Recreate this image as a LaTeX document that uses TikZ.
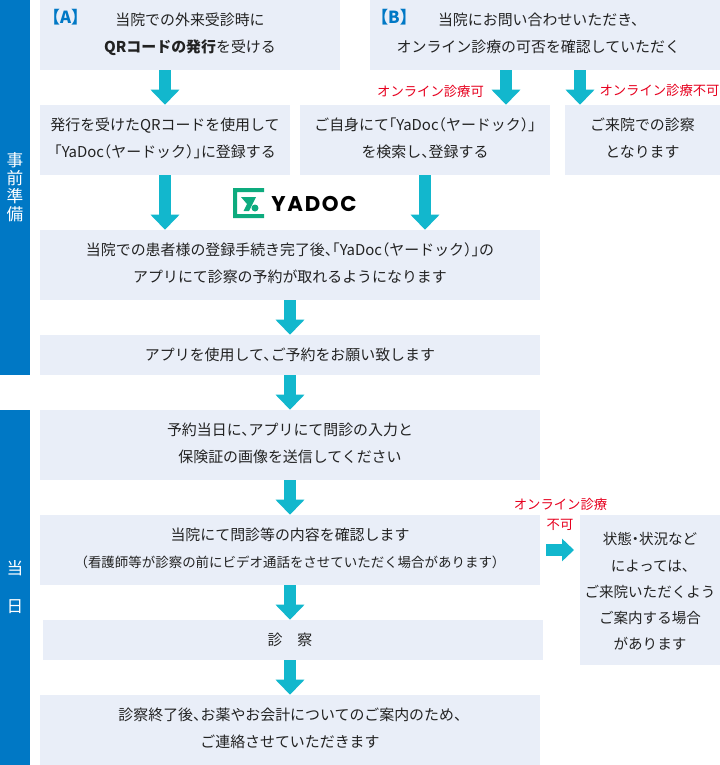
\documentclass[tikz,border=0pt]{standalone}
\usepackage{fontspec}
\setmainfont[RawFeature=+halt]{Noto Sans CJK JP}
\newfontfamily\logofont[LetterSpace=8]{Poppins}
\usepackage{tikz}
\usetikzlibrary{arrows.meta}
\definecolor{barblue}{RGB}{0,120,197}
\definecolor{boxblue}{RGB}{233,238,248}
\definecolor{arrowteal}{RGB}{18,183,205}
\definecolor{logogreen}{RGB}{13,171,126}
\definecolor{notered}{RGB}{230,0,30}
\definecolor{inktext}{RGB}{34,34,34}
\newcommand{\liftline}{\rule[-3.5pt]{0pt}{3.5pt}}

\begin{document}
\begin{tikzpicture}
   [x=0.75pt,y=-0.75pt,
    sidebar/.style 2 args={fill=barblue,text=white,inner sep=0pt,align=center,
       minimum width=22.5pt,minimum height=#1*0.75pt,font=\fontsize{12.5}{#2}\selectfont},
    flowbox/.style 2 args={fill=boxblue,text=inktext,inner sep=0pt,align=center,
       minimum width=#1*0.75pt,minimum height=#2*0.75pt,font=\fontsize{11.2}{19.7}\selectfont},
    tag/.style={text=barblue,inner sep=0pt,font=\fontsize{12.5}{14}\selectfont\bfseries},
    note/.style={text=notered,inner sep=0pt,font=\fontsize{10}{12}\selectfont},
    downarrow/.style={arrowteal,line width=9pt,-{Triangle[width=21pt,length=11.25pt]}},
    rightarrow/.style={arrowteal,line width=9pt,-{Triangle[width=16.5pt,length=9pt]}}]
   \useasboundingbox (0,0) rectangle (720,765);

   \node [sidebar={375}{13.5}] (prep) at (15,187.5) {事\\前\\準\\備};
   \node [sidebar={355}{28.5}] (today) at (15,587.5) {当\\日};

   \node [flowbox={300}{70}] (qr) at (190,35) {当院での外来受診時に\\\textbf{QRコードの発行}を受ける\liftline};
   \node [flowbox={350}{70}] (ask) at (545,35) {当院にお問い合わせいただき、\hspace*{10pt}\\オンライン診療の可否を確認していただく\hspace*{10pt}\liftline};
   \node [tag] (taga) at (65.5,17) {【A】};
   \node [tag] (tagb) at (394,17) {【B】};

   \node [flowbox={250}{70}] (use) at (165,140) {発行を受けたQRコードを使用して\\「YaDoc（ヤードック）」に登録する\liftline};
   \node [flowbox={250}{70}] (search) at (425,140) {ご自身にて「YaDoc（ヤードック）」\\を検索し、登録する\liftline};
   \node [flowbox={155}{70}] (visit) at (642.5,140) {ご来院での診察\\となります\liftline};

   \node [flowbox={500}{70}] (reg) at (290,265) {当院での患者様の登録手続き完了後、「YaDoc（ヤードック）」の\\アプリにて診察の予約が取れるようになります\liftline};
   \node [flowbox={500}{40}] (book) at (290,355) {アプリを使用して、ご予約をお願い致します};
   \node [flowbox={500}{70}] (send) at (290,445) {予約当日に、アプリにて問診の入力と\\保険証の画像を送信してください\liftline};
   \node [flowbox={500}{70}] (check) at (290,550) {当院にて問診等の内容を確認します\\{\fontsize{10.1}{19.7}\selectfont（看護師等が診察の前にビデオ通話をさせていただく場合があります）}\liftline};
   \node [flowbox={500}{40}] (exam) at (293,640) {診　察\hspace*{4.5pt}};
   \node [flowbox={500}{70}] (finish) at (290,730) {診察終了後、お薬やお会計についてのご案内のため、\\ご連絡させていただきます\liftline};
   \node [flowbox={140}{150},font=\fontsize{10.9}{19.7}\selectfont] (other) at (650,590) {\rule{0pt}{11.5pt}状態・状況など\\によっては、\\ご来院いただくよう\\ご案内する場合\\があります};

   \node [note] (noteok) at (430.5,91) {オンライン診療可};
   \node [note] (noteno) at (659.5,90) {オンライン診療不可};
   \node [note] (notecheck) at (560.5,504) {オンライン診療};
   \node [note] (notecheckb) at (560,525) {不可};

   \coordinate (cola) at (165,0);
   \coordinate (colb) at (425,0);
   \coordinate (colc) at (506,0);
   \coordinate (cold) at (580,0);
   \coordinate (cole) at (290,0);
   \coordinate (fromcheck) at (546,550);
   \coordinate (toother) at (574,550);

   \draw [downarrow] (qr.south -| cola) -- (use.north -| cola);
   \draw [downarrow] (ask.south -| colc) -- (search.north -| colc);
   \draw [downarrow] (ask.south -| cold) -- (visit.north -| cold);
   \draw [downarrow] (use.south -| cola) -- (reg.north -| cola);
   \draw [downarrow] (search.south -| colb) -- (reg.north -| colb);
   \draw [downarrow] (reg.south -| cole) -- (book.north -| cole);
   \draw [downarrow] (book.south -| cole) -- (send.north -| cole);
   \draw [downarrow] (send.south -| cole) -- (check.north -| cole);
   \draw [downarrow] (check.south -| cole) -- (exam.north -| cole);
   \draw [downarrow] (exam.south -| cole) -- (finish.north -| cole);
   \draw [rightarrow] (fromcheck) -- (toother);

   \fill [logogreen] (233,188) -- (264,188) -- (264,192) -- (237,192) -- (237,214)
      -- (264,214) -- (264,218) -- (233,218) -- cycle;
   \fill [logogreen] (241,197) -- (256,197) -- (249,211) -- (243.5,211) -- (247,204) -- cycle;
   \fill [logogreen] (255,208) circle [radius=3.5];
   \node [inner sep=0pt,font=\logofont\fontsize{16}{20}\selectfont\bfseries] (logo) at (314,204) {YADOC};
\end{tikzpicture}
\end{document}
